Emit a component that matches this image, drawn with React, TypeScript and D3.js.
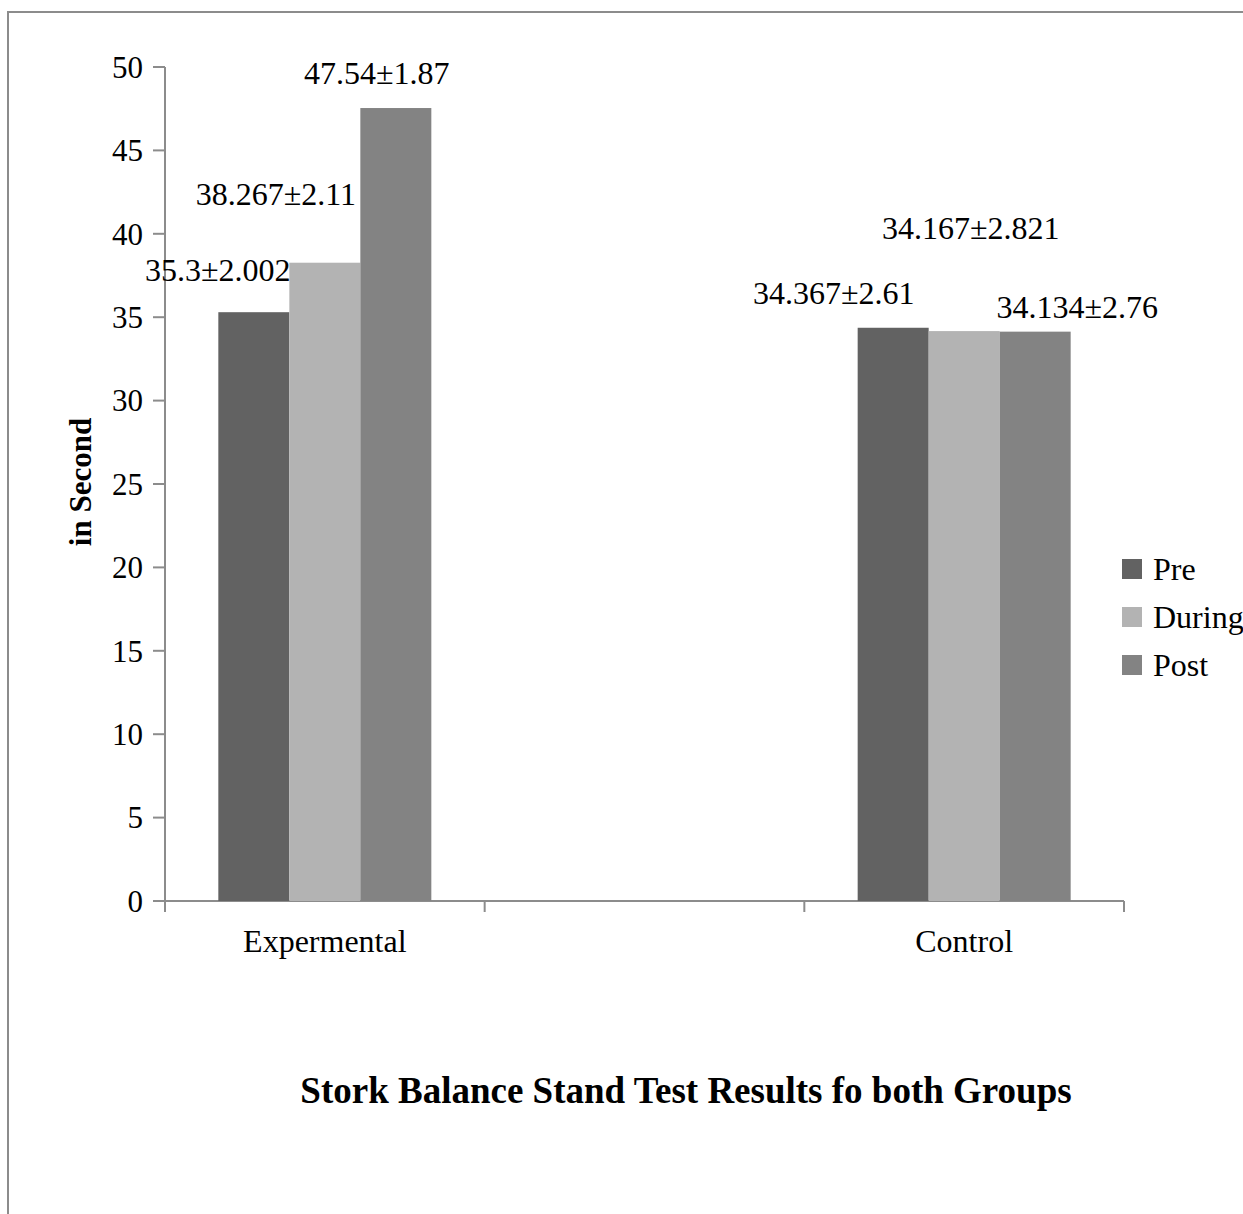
import React from "react";
import * as d3 from "d3";

const categories = ["Expermental", "", "Control"];
const seriesNames = ["Pre", "During", "Post"];
const preValues = [35.3, null, 34.367];
const duringValues = [38.267, null, 34.167];
const postValues = [47.54, null, 34.134];
const labelTexts = [
  ["35.3±2.002", "", "34.367±2.61"],
  ["38.267±2.11", "", "34.167±2.821"],
  ["47.54±1.87", "", "34.134±2.76"],
];
// label offsets (dx from bar center, dy from bar top) as placed in the source
const labelOffsets = [
  [[-36, -42], [0, 0], [-59.5, -35]],
  [[-49, -69], [0, 0], [6.5, -103]],
  [[-19, -35], [0, 0], [42, -25]],
];
const yTicks = [0, 5, 10, 15, 20, 25, 30, 35, 40, 45, 50];
const colors = ["#626262", "#b3b3b3", "#838383"];

const W = 1243;
const H = 1214;
const left = 165;
const right = 1124;
const top = 67;
const bottom = 901;
const font = "'Liberation Serif', 'Times New Roman', serif";

export default function App() {
  const series = [preValues, duringValues, postValues];
  const y = d3.scaleLinear().domain([0, 50]).range([bottom, top]);
  const x0 = d3.scaleBand().domain(categories.map((c, i) => String(i))).range([left, right]);
  const groupW = 213;
  const x1 = d3.scaleBand().domain(seriesNames).range([0, groupW]);
  const bw = x1.bandwidth();
  const axisColor = "#8c8c8c";
  const fs = 32;

  const tickXs = [left, ...categories.map((c, i) => (x0(String(i)) as number) + x0.bandwidth())];

  return (
    <svg
      width={W}
      height={H}
      style={{ position: "absolute", left: 0, top: 0, background: "#fff" }}
      fontFamily={font}
    >
      <rect x={8} y={12} width={W + 20} height={H + 20} fill="none" stroke="#8c8c8c" strokeWidth={2} />
      {/* y axis */}
      <line x1={left} x2={left} y1={top} y2={bottom} stroke={axisColor} strokeWidth={2} />
      {yTicks.map((t) => (
        <g key={t}>
          <line x1={left - 12} x2={left} y1={y(t)} y2={y(t)} stroke={axisColor} strokeWidth={2} />
          <text x={143} y={y(t)} dy="0.35em" textAnchor="end" fontSize={31} fill="#000">
            {t}
          </text>
        </g>
      ))}
      {/* x axis */}
      <line x1={left} x2={right} y1={bottom} y2={bottom} stroke={axisColor} strokeWidth={2} />
      {tickXs.map((v, i) => (
        <line key={"xt" + i} x1={v} x2={v} y1={bottom} y2={bottom + 11} stroke={axisColor} strokeWidth={2} />
      ))}
      {categories.map((c, i) => (
        <text
          key={"c" + i}
          x={(x0(String(i)) as number) + x0.bandwidth() / 2}
          y={941}
          dy="0.35em"
          textAnchor="middle"
          fontSize={fs}
        >
          {c}
        </text>
      ))}
      {/* bars */}
      {series.map((vals, si) =>
        categories.map((c, ci) => {
          const v = vals[ci];
          if (v == null) return null;
          const gx = (x0(String(ci)) as number) + (x0.bandwidth() - groupW) / 2;
          const bx = gx + (x1(seriesNames[si]) as number);
          return (
            <rect
              key={si + "-" + ci}
              x={bx}
              y={y(v)}
              width={bw}
              height={bottom - y(v)}
              fill={colors[si]}
            />
          );
        })
      )}
      {/* labels */}
      {series.map((vals, si) =>
        categories.map((c, ci) => {
          const v = vals[ci];
          if (v == null) return null;
          const gx = (x0(String(ci)) as number) + (x0.bandwidth() - groupW) / 2;
          const cx = gx + (x1(seriesNames[si]) as number) + bw / 2;
          const [dx, dy] = labelOffsets[si][ci];
          return (
            <text
              key={"l" + si + "-" + ci}
              x={cx + dx}
              y={y(v) + dy}
              dy="0.35em"
              textAnchor="middle"
              fontSize={fs}
            >
              {labelTexts[si][ci]}
            </text>
          );
        })
      )}
      {/* y axis title */}
      <text
        transform={`translate(80, 482) rotate(-90)`}
        textAnchor="middle"
        dy="0.35em"
        fontSize={31}
        fontWeight="bold"
      >
        in Second
      </text>
      {/* legend */}
      {seriesNames.map((s, i) => (
        <g key={s} transform={`translate(1122, ${559 + i * 48})`}>
          <rect x={0} y={0} width={20} height={20} fill={colors[i]} />
          <text x={31} y={10} dy="0.35em" fontSize={fs}>
            {s}
          </text>
        </g>
      ))}
      {/* title */}
      <text x={686} y={1090} dy="0.35em" textAnchor="middle" fontSize={37} fontWeight="bold">
        Stork Balance Stand Test Results fo both Groups
      </text>
    </svg>
  );
}
